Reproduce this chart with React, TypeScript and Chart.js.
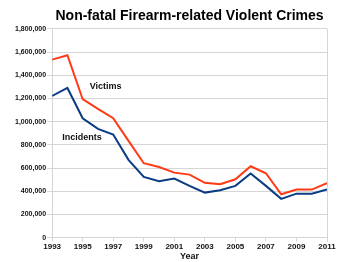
import React, { useEffect, useRef } from "react";
import { Chart, registerables } from "chart.js";

Chart.register(...registerables);

const years = [
  1993, 1994, 1995, 1996, 1997, 1998, 1999, 2000, 2001, 2002,
  2003, 2004, 2005, 2006, 2007, 2008, 2009, 2010, 2011,
];
const victims = [
  1534000, 1572000, 1193000, 1110000, 1029000, 834000, 641000, 609000, 560000, 543000,
  472000, 460000, 503000, 615000, 555000, 374000, 414000, 414000, 469000,
];
const incidents = [
  1221000, 1290000, 1029000, 937000, 889000, 670000, 523000, 486000, 509000, 446000,
  388000, 409000, 446000, 552000, 446000, 334000, 379000, 379000, 414000,
];
const yTicks = [0, 200000, 400000, 600000, 800000, 1000000, 1200000, 1400000, 1600000, 1800000];

const FONT = "'Liberation Sans', Arial, sans-serif";
const RED = "#ff3a14";
const BLUE = "#0a3c84";
const GRID = "#d6d6d6";

// Writes the series names next to their lines
const seriesNames = {
  id: "seriesNames",
  afterDatasetsDraw(chart: any) {
    const { ctx, scales } = chart;
    const x = scales.x;
    const y = scales.y;
    ctx.save();
    ctx.font = `bold 9px ${FONT}`;
    ctx.fillStyle = "#111";
    ctx.textAlign = "center";
    ctx.textBaseline = "middle";
    ctx.fillText("Victims", x.getPixelForValue(1996.5), y.getPixelForValue(1300000));
    ctx.fillText("Incidents", x.getPixelForValue(1994.95), y.getPixelForValue(862000));
    ctx.restore();
  },
};

export default function App() {
  const canvasRef = useRef<HTMLCanvasElement | null>(null);

  useEffect(() => {
    document.body.style.margin = "0";
    const canvas = canvasRef.current;
    if (!canvas) return;
    const chart = new Chart(canvas, {
      type: "line",
      data: {
        datasets: [
          {
            label: "Victims",
            data: years.map((yr, i) => ({ x: yr, y: victims[i] })),
            borderColor: RED,
            borderWidth: 2,
            pointRadius: 0,
            tension: 0,
          },
          {
            label: "Incidents",
            data: years.map((yr, i) => ({ x: yr, y: incidents[i] })),
            borderColor: BLUE,
            borderWidth: 2,
            pointRadius: 0,
            tension: 0,
          },
        ],
      },
      options: {
        responsive: false,
        animation: false,
        layout: { padding: { left: 14, right: 23, top: 0, bottom: 0 } },
        plugins: {
          legend: { display: false },
          tooltip: { enabled: false },
          title: {
            display: true,
            text: "Non-fatal Firearm-related Violent Crimes",
            fullSize: false,
            color: "#000",
            font: { family: FONT, size: 14, weight: "bold" },
            padding: { top: 8, bottom: 4 },
          },
        },
        scales: {
          x: {
            type: "linear",
            min: years[0],
            max: years[years.length - 1],
            border: { color: GRID },
            grid: {
              color: (c: any) => (c.tick && c.tick.value === years[years.length - 1] ? GRID : "transparent"),
              tickColor: GRID,
              tickLength: 4,
            },
            ticks: {
              stepSize: 2,
              padding: 0,
              maxRotation: 0,
              color: "#111",
              font: { family: FONT, size: 8, weight: "bold" },
              callback: (v: any) => String(v),
            },
            title: {
              display: true,
              text: "Year",
              color: "#111",
              font: { family: FONT, size: 9, weight: "bold" },
              padding: { top: 0, bottom: 0 },
            },
          },
          y: {
            min: yTicks[0],
            max: yTicks[yTicks.length - 1],
            afterBuildTicks: (s: any) => {
              s.ticks = yTicks.map((v) => ({ value: v }));
            },
            border: { color: GRID },
            grid: { color: GRID, tickColor: GRID, tickLength: 5 },
            ticks: {
              padding: 1,
              color: "#111",
              font: { family: FONT, size: 7, weight: "bold" },
              callback: (v: any) => Number(v).toLocaleString("en-US"),
            },
          },
        },
      },
      plugins: [seriesNames],
    });
    return () => chart.destroy();
  }, []);

  return (
    <div style={{ width: 350, height: 262 }}>
      <canvas ref={canvasRef} width={350} height={262} />
    </div>
  );
}
